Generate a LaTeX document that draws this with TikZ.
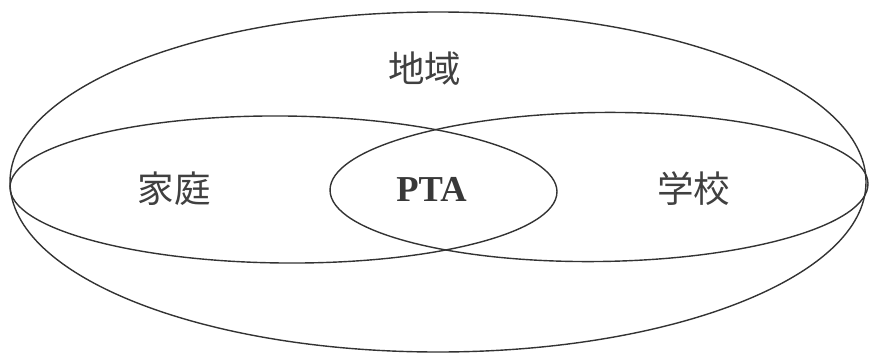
\documentclass[tikz,border=0pt]{standalone}
\usepackage{fontspec}
\setmainfont{Liberation Serif}
\newfontfamily\cjk{Noto Sans CJK JP}
\begin{document}
\begin{tikzpicture}[x=1pt,y=-1pt,
  ring/.style={draw=black!80, line width=1.4pt},
  cjklabel/.style={font=\cjk\fontsize{36.5}{40}\selectfont, text=black!75, inner sep=0pt},
  ptalabel/.style={font=\bfseries\fontsize{36.5}{40}\selectfont, text=black!78, inner sep=0pt}]
\useasboundingbox (0,0) rectangle (870,356);
% outer region
\draw[ring] (438,182) ellipse [x radius=428pt, y radius=170pt];
% family
\draw[ring, rotate around={-0.5:(283.5,189.5)}] (283.5,189.5) ellipse [x radius=273.5pt, y radius=73.5pt];
% school
\draw[ring, rotate around={0.7:(599,187)}] (599,187) ellipse [x radius=269pt, y radius=74.5pt];
\node[cjklabel] (chiiki) at (424.5,68.5) {地域};
\node[cjklabel] (katei) at (174,189) {家庭};
\node[ptalabel] (pta) at (431.5,189) {PTA};
\node[cjklabel] (gakko) at (693.5,188.5) {学校};
\end{tikzpicture}
\end{document}
